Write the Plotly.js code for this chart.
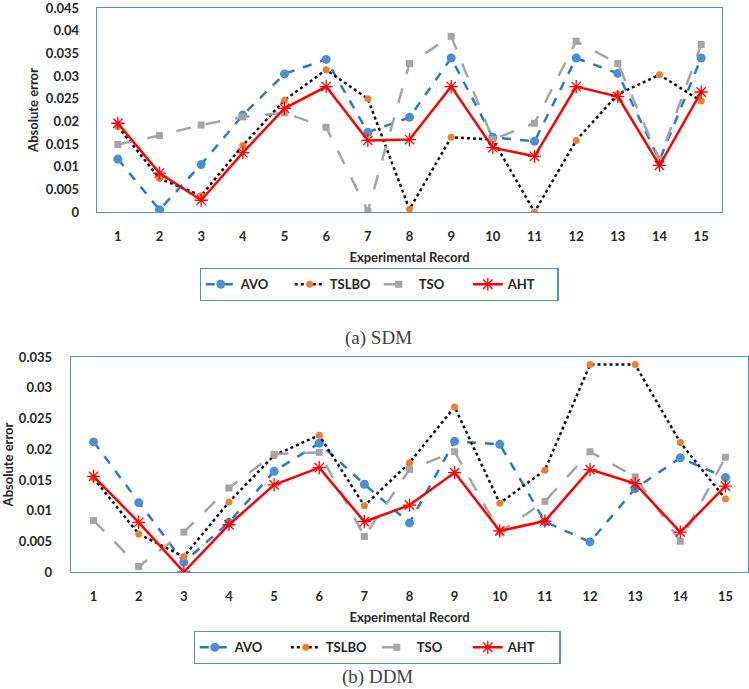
<!DOCTYPE html>
<html>
<head>
<meta charset="utf-8">
<script src="https://cdn.plot.ly/plotly-3.0.1.min.js"></script>
<style>html,body{margin:0;padding:0;background:#fff;}#chart{width:749px;height:689px;}</style>
</head>
<body>
<div id="chart"></div>
<script>
var records = ['1','2','3','4','5','6','7','8','9','10','11','12','13','14','15'];
var seriesNames = ['AVO','TSLBO','TSO','AHT'];

// (a) SDM
var sdmAVO   = [0.0117,0.0005,0.0105,0.0214,0.0305,0.0337,0.0176,0.0209,0.0340,0.0165,0.0156,0.0340,0.0306,0.0114,0.0340];
var sdmTSLBO = [0.0189,0.0074,0.0036,0.0147,0.0247,0.0314,0.0250,0.0006,0.0165,0.0160,0.0000,0.0158,0.0260,0.0303,0.0245];
var sdmTSO   = [0.0149,0.0169,0.0192,0.0210,0.0219,0.0187,0.0002,0.0328,0.0388,0.0160,0.0196,0.0377,0.0328,0.0116,0.0370];
var sdmAHT   = [0.0196,0.0086,0.0026,0.0131,0.0229,0.0277,0.0158,0.0160,0.0277,0.0142,0.0123,0.0277,0.0255,0.0103,0.0265];

// (b) DDM
var ddmAVO   = [0.0212,0.0113,0.0016,0.0081,0.0164,0.0210,0.0143,0.0080,0.0213,0.0208,0.0082,0.0049,0.0136,0.0186,0.0154];
var ddmTSLBO = [0.0153,0.0062,0.0025,0.0114,0.0190,0.0223,0.0108,0.0178,0.0269,0.0112,0.0166,0.0338,0.0338,0.0211,0.0119];
var ddmTSO   = [0.0084,0.0009,0.0065,0.0137,0.0192,0.0195,0.0058,0.0167,0.0196,0.0065,0.0115,0.0196,0.0155,0.0050,0.0187];
var ddmAHT   = [0.0156,0.0081,0.0000,0.0077,0.0142,0.0170,0.0082,0.0109,0.0162,0.0067,0.0083,0.0167,0.0144,0.0065,0.0140];

var W = 749, H = 689;
var FONT = 'Lato, "Open Sans", sans-serif';
var TXT = '#262626';
var BORDER = '#4F92D0';

var styles = [
  {line:{color:'#2A7AC6', width:2.5, dash:'dash'}, marker:{symbol:'circle', size:9, color:'#4A8FD6'}},
  {line:{color:'#111111', width:2.5, dash:'dot'}, marker:{symbol:'circle', size:7, color:'#ED7D31'}},
  {line:{color:'#A5A5A5', width:2.5, dash:'longdash'}, marker:{symbol:'square', size:7, color:'#A5A5A5'}},
  {line:{color:'#FF0000', width:2.5, dash:'solid'}, marker:{symbol:'asterisk-open', size:11, color:'#FF0000', line:{color:'#FF0000', width:1.3}}}
];

function mk(vals, i, xa, ya, leg) {
  return {
    x: records, y: vals, name: seriesNames[i], type: 'scatter', mode: 'lines+markers',
    xaxis: xa, yaxis: ya, legend: leg,
    line: styles[i].line, marker: styles[i].marker
  };
}

var data = [
  mk(sdmAVO,0,'x','y','legend'), mk(sdmTSLBO,1,'x','y','legend'), mk(sdmTSO,2,'x','y','legend'), mk(sdmAHT,3,'x','y','legend'),
  mk(ddmAVO,0,'x2','y2','legend2'), mk(ddmTSLBO,1,'x2','y2','legend2'), mk(ddmTSO,2,'x2','y2','legend2'), mk(ddmAHT,3,'x2','y2','legend2')
];

function xax(d) {
  return {
    domain: d, type: 'category', range: [-0.5, 14.5],
    showline: true, mirror: true, linecolor: BORDER, linewidth: 1.3,
    showgrid: false, zeroline: false, ticks: '', ticklabelstandoff: 12,
    tickfont: {family: FONT, size: 13, color: TXT, weight: 'bold'},
    title: {text: 'Experimental Record', font: {family: FONT, size: 13, color: TXT, weight: 'bold'}, standoff: 10},
    fixedrange: true
  };
}
function yax(d, r, so, tso) {
  return {
    domain: d, range: r, dtick: 0.005, tick0: 0,
    showline: true, mirror: true, linecolor: BORDER, linewidth: 1.3,
    showgrid: false, zeroline: false, ticks: '', ticklabelstandoff: so,
    ticklabeloverflow: 'allow',
    tickfont: {family: FONT, size: 13, color: TXT, weight: 'bold'},
    title: {text: 'Absolute error', font: {family: FONT, size: 13, color: TXT, weight: 'bold'}, standoff: tso},
    fixedrange: true
  };
}

var legFont = {family: FONT, size: 13, color: TXT, weight: 'bold'};

var layout = {
  width: W, height: H,
  margin: {l: 0, r: 0, t: 0, b: 0},
  paper_bgcolor: '#fff', plot_bgcolor: '#fff',
  showlegend: true,
  xaxis: Object.assign(xax([97/W, 722/W]), {anchor: 'y'}),
  yaxis: Object.assign(yax([1-212/H, 1-8/H], [0, 0.04505], 14, 4), {anchor: 'x'}),
  xaxis2: Object.assign(xax([71/W, 748/W]), {anchor: 'y2'}),
  yaxis2: Object.assign(yax([1-572/H, 1-357/H], [0, 0.03504], 15, 8), {anchor: 'x2'}),
  legend: {
    orientation: 'h', x: 379/W, xanchor: 'center', y: 1-284.5/H, yanchor: 'middle',
    bordercolor: BORDER, borderwidth: 1.3, bgcolor: '#fff', entrywidth: 44,
    font: legFont
  },
  legend2: {
    orientation: 'h', x: 377/W, xanchor: 'center', y: 1-647.5/H, yanchor: 'middle',
    bordercolor: BORDER, borderwidth: 1.3, bgcolor: '#fff', entrywidth: 46,
    font: legFont
  },
  annotations: [
    {text: '(a) SDM', xref: 'paper', yref: 'paper', x: 379/W, y: 1-338/H, xanchor: 'center', yanchor: 'middle',
     showarrow: false, font: {family: '"Liberation Serif", "DejaVu Serif", serif', size: 19, color: '#404040'}},
    {text: '(b) DDM', xref: 'paper', yref: 'paper', x: 377/W, y: 1-677/H, xanchor: 'center', yanchor: 'middle',
     showarrow: false, font: {family: '"Liberation Serif", "DejaVu Serif", serif', size: 19, color: '#404040'}}
  ]
};

Plotly.newPlot('chart', data, layout, {displayModeBar: false, staticPlot: true});
</script>
</body>
</html>
